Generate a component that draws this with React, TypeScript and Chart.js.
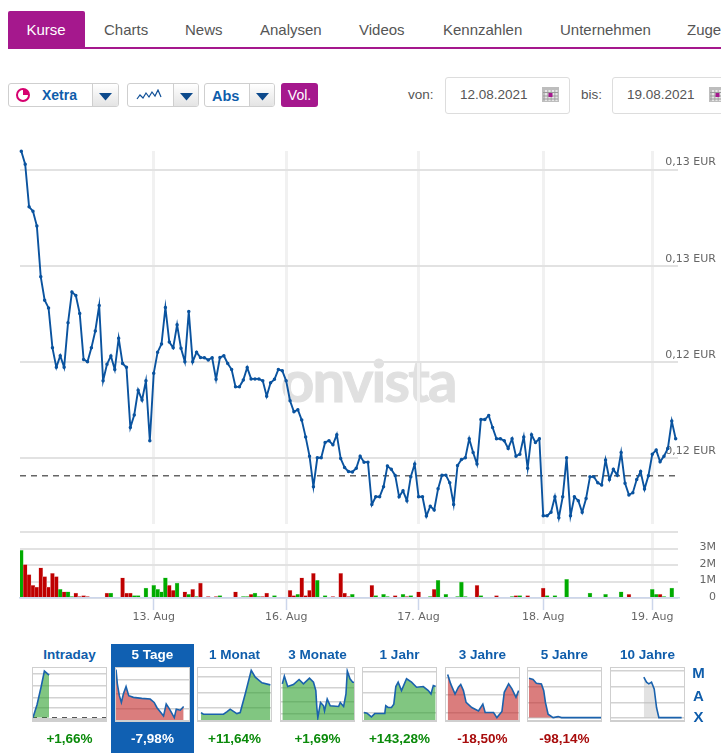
import React, { useEffect, useRef } from "react";
import { Chart, registerables } from "chart.js";

Chart.register(...registerables);

// ---------- data ----------
const priceValues = [
  0.13276, 0.13222, 0.13045, 0.13027, 0.12965, 0.12754, 0.12657, 0.12625, 0.12459, 0.12378, 0.12426, 0.12378, 0.12563,
  0.12691, 0.12677, 0.12602, 0.12411, 0.12401, 0.12459, 0.12529, 0.12635, 0.12322, 0.12391, 0.12425, 0.12369, 0.12499,
  0.12394, 0.12378, 0.12128, 0.1218, 0.12283, 0.12242, 0.12322, 0.12073, 0.12353, 0.12441, 0.12475, 0.12627, 0.12483,
  0.12459, 0.12555, 0.12457, 0.12401, 0.1261, 0.12401, 0.12441, 0.12419, 0.12418, 0.12409, 0.12418, 0.12329, 0.12419,
  0.12426, 0.12394, 0.12369, 0.12297, 0.12297, 0.12325, 0.12377, 0.1233, 0.1233, 0.1233, 0.12322, 0.12258, 0.12314,
  0.12328, 0.12369, 0.12364, 0.12322, 0.12239, 0.12193, 0.12202, 0.12159, 0.12089, 0.12009, 0.11882, 0.12002, 0.12002,
  0.12066, 0.12073, 0.12056, 0.12098, 0.11999, 0.11962, 0.11945, 0.11943, 0.11959, 0.12009, 0.11984, 0.11984, 0.11808,
  0.1184, 0.1184, 0.11882, 0.11968, 0.11954, 0.11929, 0.1184, 0.11865, 0.11824, 0.11923, 0.11976, 0.1184, 0.1184, 0.1176,
  0.11801, 0.11785, 0.11873, 0.1193, 0.1193, 0.11898, 0.11808, 0.1197, 0.11995, 0.12002, 0.12081, 0.12024, 0.11976,
  0.12161, 0.12161, 0.12178, 0.12128, 0.12081, 0.12081, 0.12073, 0.12041, 0.12081, 0.12009, 0.12017, 0.12089, 0.11959,
  0.12098, 0.12066, 0.12081, 0.11761, 0.11761, 0.11776, 0.1184, 0.11753, 0.1184, 0.12002, 0.11761, 0.1184, 0.11824,
  0.11776, 0.11833, 0.11923, 0.11923, 0.11898, 0.11889, 0.11993, 0.11912, 0.11954, 0.1193, 0.12024, 0.11896, 0.11848,
  0.11857, 0.11912, 0.11945, 0.11872, 0.11927, 0.12017, 0.12034, 0.11986, 0.12009, 0.12041, 0.12155, 0.12081,
];
const previousClose = 0.11928;
const priceTicks = [0.12, 0.124, 0.128, 0.132];
const dayTickIndex = [34, 68, 102, 134, 162];
const dayTickLabels = ["13. Aug", "16. Aug", "17. Aug", "18. Aug", "19. Aug"];
const volumeTicks = [0, 1, 2, 3, 4];
const volumeTickLabels = ["0", "1M", "2M", "3M", ""];

// [slot, volume in millions]
const volumeUp = [
  [0, 2.9], [10, 0.53], [12, 0.37], [13, 0.08], [23, 0.3], [29, 0.14], [30, 0.14], [32, 0.6], [34, 0.77], [35, 0.53],
  [36, 0.37], [37, 1.22], [40, 0.91], [43, 0.22], [45, 0.08], [51, 0.14], [57, 0.08], [58, 0.08], [60, 0.3], [61, 0.08],
  [65, 0.14], [71, 0.22], [76, 1.07], [78, 0.14], [85, 0.22], [91, 0.14], [93, 0.22], [94, 0.08], [98, 0.22], [100, 0.14],
  [105, 0.08], [107, 1.07], [109, 0.22], [112, 0.08], [113, 0.97], [114, 0.08], [118, 0.14], [126, 0.08], [128, 0.14],
  [135, 0.14], [137, 0.14], [140, 1.14], [146, 0.3], [150, 0.22], [154, 0.37], [162, 0.53], [163, 0.22], [165, 0.08], [167, 0.6],
];
const volumeDown = [
  [1, 2.03], [2, 1.42], [3, 0.77], [4, 0.67], [5, 1.83], [6, 1.3], [7, 0.67], [8, 1.5], [9, 1.3], [11, 0.37], [14, 0.3],
  [15, 0.08], [16, 0.14], [17, 0.08], [22, 0.3], [26, 1.22], [27, 0.3], [28, 0.3], [38, 0.77], [39, 0.47], [42, 0.37],
  [44, 0.53], [46, 0.91], [48, 0.08], [50, 0.08], [55, 0.37], [59, 0.22], [62, 0.08], [63, 0.3], [69, 0.47], [70, 0.14],
  [72, 1.22], [73, 0.14], [74, 0.47], [75, 1.5], [80, 0.08], [82, 1.5], [83, 0.3], [84, 0.08], [90, 0.77], [96, 0.14],
  [99, 0.08], [102, 0.38], [106, 0.53], [117, 0.77], [122, 0.14], [127, 0.14], [130, 0.14], [134, 0.6], [156, 0.22], [164, 0.22],
];

// thumbnails: [position along the period, indexed level]
const intradayLine = [[3, 13], [15, 51], [27, 103], [37, 151], [51, 139]];
const fiveDayLine = [[3, 155], [7, 113], [13, 78], [19, 58], [25, 83], [33, 105], [41, 78], [55, 73], [80, 70], [105, 68], [117, 58], [125, 43], [145, 18], [153, 53], [163, 38], [177, 13], [183, 38], [195, 35], [205, 46]];
const oneMonthLine = [[12, 28], [19, 23], [79, 23], [89, 30], [99, 38], [119, 25], [129, 28], [144, 83], [162, 153], [174, 133], [194, 116], [219, 110]];
const threeMonthLine = [[7, 113], [13, 136], [23, 105], [40, 111], [57, 126], [70, 113], [88, 130], [100, 118], [107, 93], [110, 43], [113, 13], [121, 58], [130, 48], [133, 33], [141, 68], [150, 48], [175, 46], [180, 58], [190, 46], [197, 83], [201, 151], [209, 128], [217, 118], [224, 118]];
const oneYearLine = [[6, 28], [15, 26], [28, 15], [38, 25], [68, 25], [71, 48], [78, 43], [88, 43], [95, 53], [101, 105], [108, 118], [118, 93], [133, 128], [148, 118], [163, 103], [183, 105], [198, 93], [206, 83], [213, 108], [220, 105]];
const threeYearLine = [[8, 141], [17, 113], [30, 83], [40, 103], [47, 111], [55, 93], [63, 58], [80, 43], [100, 33], [113, 53], [120, 28], [145, 28], [155, 13], [170, 31], [177, 88], [190, 113], [200, 98], [212, 73], [220, 93]];
const fiveYearLine = [[6, 130], [18, 126], [28, 115], [43, 113], [50, 93], [55, 58], [63, 23], [78, 13], [93, 16], [103, 13], [221, 13]];
const tenYearLine = [[101, 133], [109, 118], [116, 113], [124, 118], [132, 98], [139, 43], [146, 13], [214, 13]];

const thumbs = [
  { title: "Intraday", change: "+1,66%", left: 32, line: intradayLine, tone: "up", base: 13, dashed: 13, grid: [143, 106, 73, 41] },
  { title: "5 Tage", change: "-7,98%", left: 115, line: fiveDayLine, tone: "down", base: 6, grid: [125, 83, 40], active: true },
  { title: "1 Monat", change: "+11,64%", left: 197, line: oneMonthLine, tone: "up", base: 6, grid: [133, 88, 43] },
  { title: "3 Monate", change: "+1,69%", left: 280, line: threeMonthLine, tone: "up", base: 6, grid: [143, 101, 61, 23] },
  { title: "1 Jahr", change: "+143,28%", left: 362, line: oneYearLine, tone: "up", base: 6, grid: [148, 88, 28] },
  { title: "3 Jahre", change: "-18,50%", left: 445, line: threeYearLine, tone: "down", base: 6, grid: [130, 81, 28] },
  { title: "5 Jahre", change: "-98,14%", left: 527, line: fiveYearLine, tone: "down", base: 13, grid: [151, 103, 58, 13] },
  { title: "10 Jahre", change: "", left: 610, line: tenYearLine, tone: "flat", base: 13, grid: [151, 103, 58, 13] },
];
const tabs = [["Charts", 104], ["News", 185], ["Analysen", 260], ["Videos", 359], ["Kennzahlen", 443], ["Unternehmen", 560], ["Zugehörige Werte", 687]] as [string, number][];

// ---------- styles ----------
const PURPLE = "#a5188d";
const BLUE = "#0f5dab";
const LINE = "#0a539f";
const SANS = '"Liberation Sans", Arial, sans-serif';
const AXIS_FONT = '"DejaVu Sans", sans-serif';

const fullSeries = (pairs: number[][]) => {
  const out: (number | null)[] = priceValues.map(() => null);
  pairs.forEach(([i, v]) => (out[i] = v));
  return out;
};
const upSeries = fullSeries(volumeUp);
const downSeries = fullSeries(volumeDown);
const volumeValues = priceValues.map((_, i) => upSeries[i] ?? downSeries[i]);

const noEdgePadding = (a: any) => {
  a.paddingTop = 0;
  a.paddingBottom = 0;
  a.paddingLeft = 0;
  a.paddingRight = 0;
};

function useChart(make: (c: HTMLCanvasElement) => Chart) {
  const ref = useRef<HTMLCanvasElement>(null);
  useEffect(() => {
    const chart = make(ref.current as HTMLCanvasElement);
    return () => chart.destroy();
  }, []);
  return ref;
}

function MainChart() {
  const ref = useChart((c) =>
    new Chart(c, {
      type: "line",
      data: {
        datasets: [
          {
            data: priceValues.map((y, x) => ({ x, y })),
            borderColor: LINE,
            backgroundColor: LINE,
            borderWidth: 1.9,
            pointRadius: 0.8,
            tension: 0,
            clip: false,
          } as any,
          {
            data: [{ x: -0.33, y: previousClose }, { x: 168.6, y: previousClose }],
            borderColor: "#666",
            borderWidth: 1.5,
            borderDash: [6, 5],
            pointRadius: 0,
          },
        ],
      },
      options: {
        animation: false,
        responsive: false,
        events: [],
        layout: { autoPadding: false, padding: { left: 20, top: 11, right: 0, bottom: 0 } },
        plugins: { legend: { display: false }, tooltip: { enabled: false } },
        scales: {
          x: {
            type: "linear",
            min: -0.33,
            max: 168.6,
            bounds: "data",
            afterBuildTicks: (a: any) => { a.ticks = dayTickIndex.map((value) => ({ value })); },
            afterFit: (a: any) => { a.height = 0; noEdgePadding(a); },
            ticks: { display: false, autoSkip: false },
            grid: { color: "#f1f1f1", lineWidth: 3, drawTicks: false },
            border: { display: false },
          },
          y: {
            position: "right",
            min: 0.11727,
            max: 0.13277,
            bounds: "data",
            afterBuildTicks: (a: any) => { a.ticks = priceTicks.map((value) => ({ value })); },
            afterFit: (a: any) => { a.width = 43; noEdgePadding(a); },
            ticks: {
              autoSkip: false,
              mirror: true,
              padding: 38,
              labelOffset: -7,
              color: "#666",
              font: { family: AXIS_FONT, size: 11 },
              callback: (v: any) => Number(v).toFixed(2).replace(".", ",") + " EUR",
            },
            grid: { color: "#e2e2e2", lineWidth: 2, drawTicks: false },
            border: { display: false },
          },
        },
      },
    } as any)
  );
  return <canvas ref={ref} width={721} height={384} style={{ position: "absolute", left: 0, top: 140, width: 721, height: 384 }} />;
}

function VolumeChart() {
  const ref = useChart((c) =>
    new Chart(c, {
      type: "bar",
      data: {
        datasets: [
          {
            data: volumeValues.map((y, x) => ({ x, y })),
            backgroundColor: volumeValues.map((_, i) => (upSeries[i] != null ? "#00ab00" : "#bf0000")),
            borderColor: volumeValues.map((_, i) => (upSeries[i] != null ? "#8fdb8f" : "#e9b0b0")),
            borderWidth: 0.5,
            barThickness: 4,
          },
        ],
      },
      options: {
        animation: false,
        responsive: false,
        events: [],
        layout: { autoPadding: false, padding: { left: 20, top: 6, right: 0, bottom: 0 } },
        plugins: { legend: { display: false }, tooltip: { enabled: false } },
        scales: {
          x: {
            type: "linear",
            offset: false,
            min: -0.33,
            max: 168.6,
            bounds: "data",
            afterBuildTicks: (a: any) => { a.ticks = dayTickIndex.map((value) => ({ value })); },
            afterFit: (a: any) => { a.height = 32; noEdgePadding(a); },
            ticks: {
              autoSkip: false,
              maxRotation: 0,
              padding: 1,
              color: "#666",
              font: { family: AXIS_FONT, size: 11 },
              callback: (v: any) => dayTickLabels[dayTickIndex.indexOf(Number(v))] ?? "",
            },
            grid: { offset: false, color: "#f1f1f1", lineWidth: 3, tickColor: "#ccd6eb", tickLength: 12, tickWidth: 1.5 },
            border: { color: "#ccd6eb", width: 1.5 },
          },
          y: {
            position: "right",
            min: 0,
            max: 4.07,
            bounds: "data",
            afterBuildTicks: (a: any) => { a.ticks = volumeTicks.map((value) => ({ value })); },
            afterFit: (a: any) => { a.width = 38; noEdgePadding(a); },
            ticks: {
              autoSkip: false,
              padding: 15,
              crossAlign: "far",
              labelOffset: -1,
              color: "#666",
              font: { family: AXIS_FONT, size: 11 },
              callback: (v: any) => volumeTickLabels[volumeTicks.indexOf(Number(v))] ?? "",
            },
            grid: { color: "#e2e2e2", lineWidth: 2, drawTicks: false },
            border: { display: false },
          },
        },
      },
    } as any)
  );
  return <canvas ref={ref} width={716} height={105} style={{ position: "absolute", left: 0, top: 525, width: 716, height: 105 }} />;
}

const toneFill: Record<string, string> = {
  up: "rgba(45,160,45,0.6)",
  down: "rgba(195,45,45,0.62)",
  flat: "rgba(190,190,190,0.45)",
};

function Thumb({ t }: { t: any }) {
  const ref = useChart((c) =>
    new Chart(c, {
      type: "line",
      data: {
        datasets: [
          {
            data: t.line.map(([x, y]: number[]) => ({ x, y })),
            borderColor: "#1a62ad",
            borderWidth: 1.6,
            pointRadius: 0,
            fill: { value: t.base },
            backgroundColor: toneFill[t.tone],
            clip: false,
          },
          ...(t.dashed != null
            ? [{
                data: [{ x: 0, y: t.dashed }, { x: 224, y: t.dashed }],
                borderColor: "#555",
                borderWidth: 1.2,
                borderDash: [5, 5],
                pointRadius: 0,
              }]
            : []),
        ],
      },
      options: {
        animation: false,
        responsive: false,
        events: [],
        layout: { autoPadding: false, padding: 0 },
        plugins: { legend: { display: false }, tooltip: { enabled: false } },
        scales: {
          x: { type: "linear", display: false, min: 0, max: 224, bounds: "data" },
          y: {
            min: 0,
            max: 163,
            bounds: "data",
            afterBuildTicks: (a: any) => { a.ticks = t.grid.map((value: number) => ({ value })); },
            afterFit: (a: any) => { a.width = 0; noEdgePadding(a); },
            ticks: { display: false },
            grid: { color: "#d2d2d2", lineWidth: 1.5, drawTicks: false },
            border: { display: false },
          },
        },
      },
    } as any)
  );
  return (
    <div style={{ position: "absolute", left: t.left, top: 667, width: 75, height: 55, background: "#fff" }}>
      <canvas ref={ref} width={75} height={55} style={{ position: "absolute", left: 0, top: 0, width: 75, height: 55 }} />
      <div style={{ position: "absolute", inset: 0, boxSizing: "border-box", border: "1.5px solid #cfcfcf", borderBottomWidth: t.dashed != null ? 4 : 2 }} />
    </div>
  );
}

function T({ x, y, c, center, w, size = 14, bold, color = "#555", children }: any) {
  return (
    <div
      style={{
        position: "absolute",
        left: center ? c - 60 : x,
        width: center ? 120 : w,
        top: y - 10,
        lineHeight: "20px",
        textAlign: center ? "center" : "left",
        fontFamily: SANS,
        fontSize: size,
        fontWeight: bold ? 700 : 400,
        color,
        whiteSpace: "nowrap",
      }}
    >
      {children}
    </div>
  );
}

function Select({ left, right, sep }: { left: number; right: number; sep: number }) {
  return (
    <div style={{ position: "absolute", left, top: 83, width: right - left, height: 24, boxSizing: "border-box", border: "1px solid #cfcfcf", borderRadius: 3, background: "#fff", overflow: "hidden" }}>
      <div style={{ position: "absolute", left: sep - left, top: 0, bottom: 0, right: 0, background: "linear-gradient(#fff,#e4e4e4)", borderLeft: "1px solid #cfcfcf" }}>
        <svg width="14" height="8" style={{ position: "absolute", left: 6, top: 9 }}>
          <polygon points="0,0 13,0 6.5,7.5" fill="#0d4a8c" />
        </svg>
      </div>
    </div>
  );
}

function CalendarIcon({ left }: { left: number }) {
  const lines = [2, 5.5, 9, 12.5];
  return (
    <svg width="17" height="15" style={{ position: "absolute", left, top: 87 }}>
      <rect x="0" y="0" width="17" height="15" fill="#bdbdbd" />
      {lines.map((v) => <rect key={v} x={v + 1} y="3" width="2" height="11" fill="#e6e6e6" />)}
      {[5, 8.5, 11.5].map((v) => <rect key={v} x="1" y={v} width="15" height="1" fill="#9a9a9a" />)}
      <rect x="6.5" y="6" width="4" height="4" fill={PURPLE} />
    </svg>
  );
}

function DateBox({ left, right, text, icon }: { left: number; right: number; text: string; icon: number }) {
  return (
    <>
      <div style={{ position: "absolute", left, top: 77, width: right - left, height: 37, boxSizing: "border-box", border: "1px solid #ddd", borderRadius: 3 }} />
      <T x={left + 15} y={95} size={13.5}>{text}</T>
      <CalendarIcon left={icon} />
    </>
  );
}

export default function App() {
  return (
    <div style={{ position: "absolute", left: 0, top: 0, width: 721, height: 755, overflow: "hidden", background: "#fff" }}>
      {/* tabs */}
      <div style={{ position: "absolute", left: 8, top: 47, right: 0, height: 2, background: PURPLE }} />
      <div style={{ position: "absolute", left: 8, top: 11, width: 77, height: 37, background: PURPLE, borderRadius: "2px 2px 0 0" }} />
      <T c={46} center y={30} size={15} color="#fff">Kurse</T>
      {tabs.map(([label, x]) => <T key={label} x={x} y={30} size={15}>{label}</T>)}

      {/* controls */}
      <Select left={8} right={119} sep={91} />
      <svg width="16" height="16" style={{ position: "absolute", left: 15, top: 87 }}>
        <circle cx="8" cy="8" r="6" fill="none" stroke="#d6006f" strokeWidth="2" />
        <path d="M8 8 L8 2 A6 6 0 0 1 14 8 Z" fill="#d6006f" />
      </svg>
      <T x={42} y={95} size={14} bold color={BLUE}>Xetra</T>
      <Select left={127} right={199} sep={172} />
      <svg width="28" height="12" style={{ position: "absolute", left: 136, top: 89 }}>
        <polyline points="1,10 4,6 7,9 10,4 13,8 16,3 19,7 22,1 25,8" fill="none" stroke="#0f4f96" strokeWidth="1.2" />
      </svg>
      <Select left={204} right={275} sep={248} />
      <T x={212} y={96} size={14.5} bold color={BLUE}>Abs</T>
      <div style={{ position: "absolute", left: 281, top: 83, width: 37, height: 24, borderRadius: 3, background: PURPLE }} />
      <T c={299.5} center y={95} size={14} color="#fff">Vol.</T>
      <T x={408} y={95} size={13.5}>von:</T>
      <DateBox left={445} right={570} text="12.08.2021" icon={542} />
      <T x={581} y={95} size={13.5}>bis:</T>
      <DateBox left={612} right={760} text="19.08.2021" icon={709} />

      {/* watermark */}
      <div style={{ position: "absolute", left: 281, top: 340, lineHeight: "80px", fontFamily: "Lato, sans-serif", fontWeight: 700, fontSize: 58, color: "#e0e0e0", WebkitTextStroke: "1px #e0e0e0", letterSpacing: -1.8, whiteSpace: "nowrap" }}>onvista</div>

      <MainChart />
      <VolumeChart />

      {/* period thumbnails */}
      <div style={{ position: "absolute", left: 111, top: 644, width: 83, height: 109, background: "#1060b2" }} />
      {thumbs.map((t) => (
        <React.Fragment key={t.title}>
          <T c={t.left + 37.5} center y={655} size={13.5} bold color={t.active ? "#fff" : BLUE}>{t.title}</T>
          <Thumb t={t} />
          {t.change && (
            <T c={t.left + 37.5} center y={739} size={13.5} bold color={t.active ? "#fff" : t.tone === "up" ? "#0a8a0a" : "#a80c0c"}>{t.change}</T>
          )}
        </React.Fragment>
      ))}
      <T c={698.5} center y={673} size={15} bold color={BLUE}>M</T>
      <T c={698.5} center y={696} size={15} bold color={BLUE}>A</T>
      <T c={698.5} center y={717} size={15} bold color={BLUE}>X</T>
    </div>
  );
}
